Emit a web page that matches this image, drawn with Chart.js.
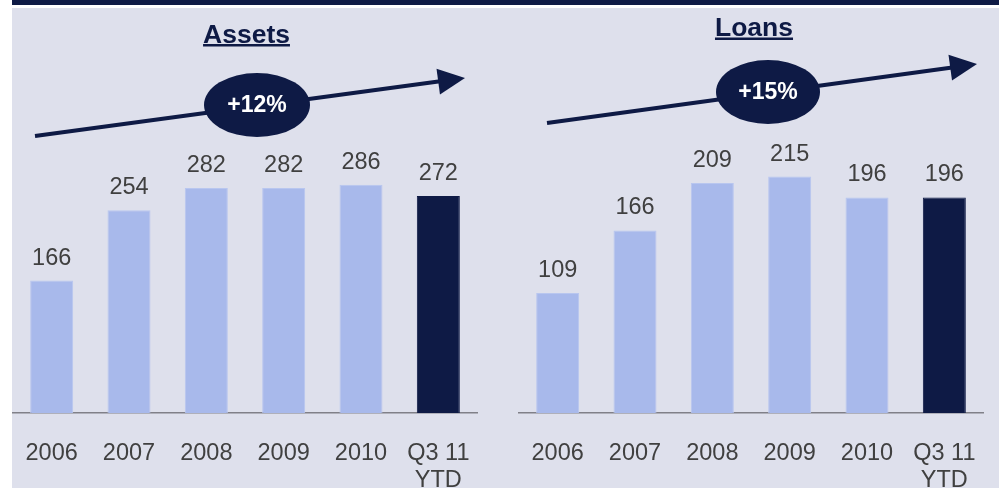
<!DOCTYPE html>
<html>
<head>
<meta charset="utf-8">
<script src="https://cdn.jsdelivr.net/npm/chart.js@4"></script>
<style>
  html, body { margin: 0; padding: 0; background: #fff; }
  body { position: relative; width: 999px; height: 488px; overflow: hidden; }
  .topbar { position: absolute; left: 12px; top: 0; width: 987px; height: 5px; background: #0E1A45; }
  .panel { position: absolute; left: 12px; top: 8px; width: 987px; height: 480px; background: #DEE0EC; }
  canvas { position: absolute; top: 0; }
  #assets { left: 0; }
  #loans { left: 500px; }
</style>
</head>
<body>
<div class="topbar"></div>
<div class="panel"></div>
<canvas id="assets" width="499" height="488"></canvas>
<canvas id="loans" width="499" height="488"></canvas>
<script>
const categories = ['2006', '2007', '2008', '2009', '2010', ['Q3 11', 'YTD']];
const assets = [166, 254, 282, 282, 286, 272];
const loans = [109, 166, 209, 215, 196, 196];

const FONT = "'Liberation Sans', Arial, sans-serif";
const navy = '#0E1A45';
const light = '#A8B9EB';
const barColors = categories.map((c, i) => i === categories.length - 1 ? navy : light);

// value labels, title with underline, growth arrow
const decor = {
    id: 'decor',
    afterDatasetsDraw(chart, args, o) {
        const ctx = chart.ctx;
        const ds = chart.data.datasets[0];
        ctx.save();

        ctx.font = '23.5px ' + FONT;
        ctx.fillStyle = '#404040';
        ctx.textAlign = 'center';
        ctx.textBaseline = 'alphabetic';
        chart.getDatasetMeta(0).data.forEach((bar, i) => {
            ctx.fillText(ds.data[i], bar.x, bar.y - 16);
        });

        ctx.font = 'bold 26.5px ' + FONT;
        ctx.fillStyle = navy;
        ctx.fillText(o.title, o.titleX, o.titleY);
        const w = ctx.measureText(o.title).width;
        ctx.fillRect(o.titleX - w / 2, o.titleY + 1.5, w, 2.5);

        const [x1, y1, x2, y2] = o.arrow;
        const len = Math.hypot(x2 - x1, y2 - y1);
        const ux = (x2 - x1) / len, uy = (y2 - y1) / len;
        const bx = x2 - 27 * ux, by = y2 - 27 * uy;
        ctx.strokeStyle = navy;
        ctx.lineWidth = 4;
        ctx.beginPath();
        ctx.moveTo(x1, y1);
        ctx.lineTo(bx + 2 * ux, by + 2 * uy);
        ctx.stroke();
        ctx.beginPath();
        ctx.moveTo(x2, y2);
        ctx.lineTo(bx - 13 * uy, by + 13 * ux);
        ctx.lineTo(bx + 13 * uy, by - 13 * ux);
        ctx.closePath();
        ctx.fill();

        const [cx, cy, rx, ry] = o.ellipse;
        ctx.beginPath();
        ctx.ellipse(cx, cy, rx, ry, 0, 0, Math.PI * 2);
        ctx.fill();
        ctx.fillStyle = '#fff';
        ctx.font = 'bold 23px ' + FONT;
        ctx.textBaseline = 'middle';
        ctx.fillText(o.growth, cx, cy + 1);
        ctx.restore();
    }
};

function makeChart(id, values, yMax, padding, deco) {
    return new Chart(document.getElementById(id), {
        type: 'bar',
        data: {
            labels: categories,
            datasets: [{
                data: values,
                backgroundColor: barColors,
                borderColor: barColors.map(c => c === light ? '#B8C6EF' : navy),
                borderWidth: 1,
                barPercentage: 0.556,
                categoryPercentage: 1
            }]
        },
        options: {
            responsive: false,
            devicePixelRatio: 1,
            animation: false,
            layout: { padding: padding },
            plugins: {
                legend: { display: false },
                tooltip: { enabled: false },
                decor: deco
            },
            scales: {
                x: {
                    grid: { display: false, drawTicks: false },
                    border: { display: true, color: '#808088', width: 1.5 },
                    ticks: {
                        color: '#404040',
                        padding: 27,
                        maxRotation: 0,
                        font: { family: FONT, size: 23.5, lineHeight: 1.15 }
                    },
                    afterFit: s => {
                        s.height = 75;
                        s.paddingLeft = 0;
                        s.paddingRight = 0;
                    }
                },
                y: { display: false, min: 0, max: yMax }
            }
        },
        plugins: [decor]
    });
}

makeChart('assets', assets, 400, { left: 13, right: 22, top: 93.8, bottom: 0 }, {
    title: 'Assets', titleX: 246.5, titleY: 42.5,
    arrow: [35, 136, 465, 78], ellipse: [257, 105, 53, 32], growth: '+12%'
});

makeChart('loans', loans, 300, { left: 19, right: 16, top: 83, bottom: 0 }, {
    title: 'Loans', titleX: 254, titleY: 36,
    arrow: [47, 123, 477, 64], ellipse: [268, 92, 52, 32], growth: '+15%'
});
</script>
</body>
</html>
